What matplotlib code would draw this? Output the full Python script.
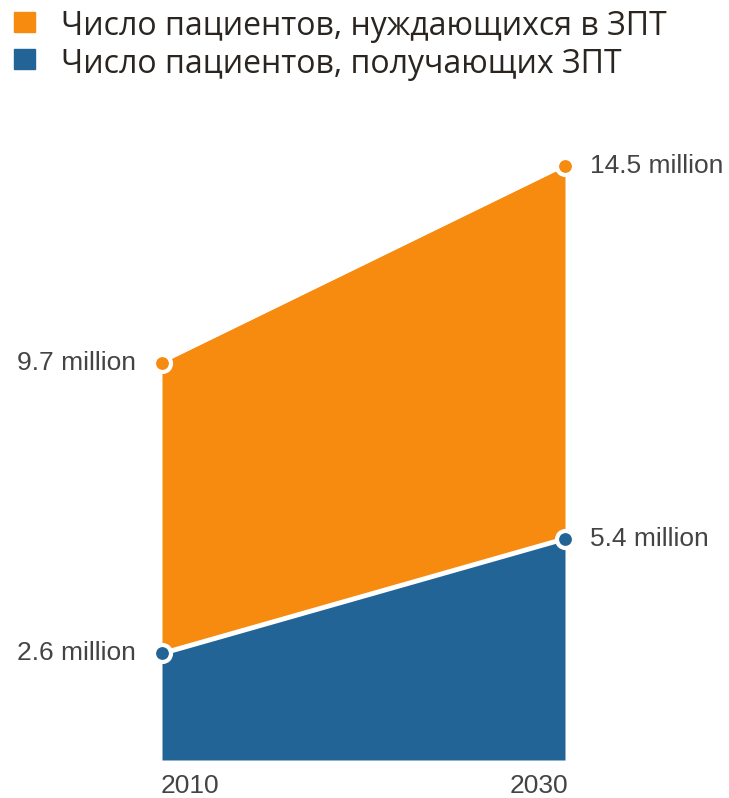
import numpy as np
import matplotlib.pyplot as plt

years = [2010, 2030]
need = [9.7, 14.5]      # число пациентов, нуждающихся в ЗПТ (млн)
receive = [2.6, 5.4]    # число пациентов, получающих ЗПТ (млн)
labels_need = ["9.7 million", "14.5 million"]
labels_recv = ["2.6 million", "5.4 million"]
legend_labels = ["Число пациентов, нуждающихся в ЗПТ", "Число пациентов, получающих ЗПТ"]

orange = "#F68B0F"
blue = "#236496"
txt = "#444444"

fig = plt.figure(figsize=(7.29, 7.98), dpi=100)
ax = fig.add_axes([162 / 729, 1 - 760 / 798, (565 - 162) / 729, (760 - 166) / 798])
ax.set_xlim(2010, 2030)
ax.set_ylim(0, 14.5)
ax.axis("off")

ax.fill_between(years, receive, need, color=orange, lw=0)
ax.fill_between(years, 0, receive, color=blue, lw=0)
ax.plot(years, receive, color="white", lw=3.5, solid_capstyle="butt")
ax.plot(years, need, color="white", lw=1.5, clip_on=False)

ax.scatter(years, need, s=150, color=orange, edgecolor="white", linewidth=3, zorder=5, clip_on=False)
ax.scatter(years, receive, s=150, color=blue, edgecolor="white", linewidth=3, zorder=5, clip_on=False)

fs = 19
for vals, labs in [(need, labels_need), (receive, labels_recv)]:
    for x, y, lab in zip(years, vals, labs):
        if x == years[0]:
            ax.annotate(lab, (x, y), xytext=(-19, 0), textcoords="offset points",
                        ha="right", va="center", fontsize=fs, color=txt, family="Liberation Sans")
        else:
            ax.annotate(lab, (x, y), xytext=(18, 0), textcoords="offset points",
                        ha="left", va="center", fontsize=fs, color=txt, family="Liberation Sans")

ax.annotate(str(years[0]), (years[0], 0), xytext=(-1, -10), textcoords="offset points",
            ha="left", va="top", fontsize=fs, color=txt, family="Liberation Sans")
ax.annotate(str(years[1]), (years[1], 0), xytext=(2, -10), textcoords="offset points",
            ha="right", va="top", fontsize=fs, color=txt, family="Liberation Sans")

# легенда
for i, (lab, c) in enumerate(zip(legend_labels, [orange, blue])):
    top = 12 + 37 * i
    fig.patches.append(plt.Rectangle((14 / 729, 1 - (top + 20) / 798), 21 / 729, 20 / 798,
                                     transform=fig.transFigure, color=c, figure=fig))
    fig.text(61 / 729, 1 - (35 + 38 * i) / 798, lab, fontsize=23, color="#2a2520",
             va="baseline", family="Open Sans")

fig.savefig("out.png", dpi=100, facecolor="white")
